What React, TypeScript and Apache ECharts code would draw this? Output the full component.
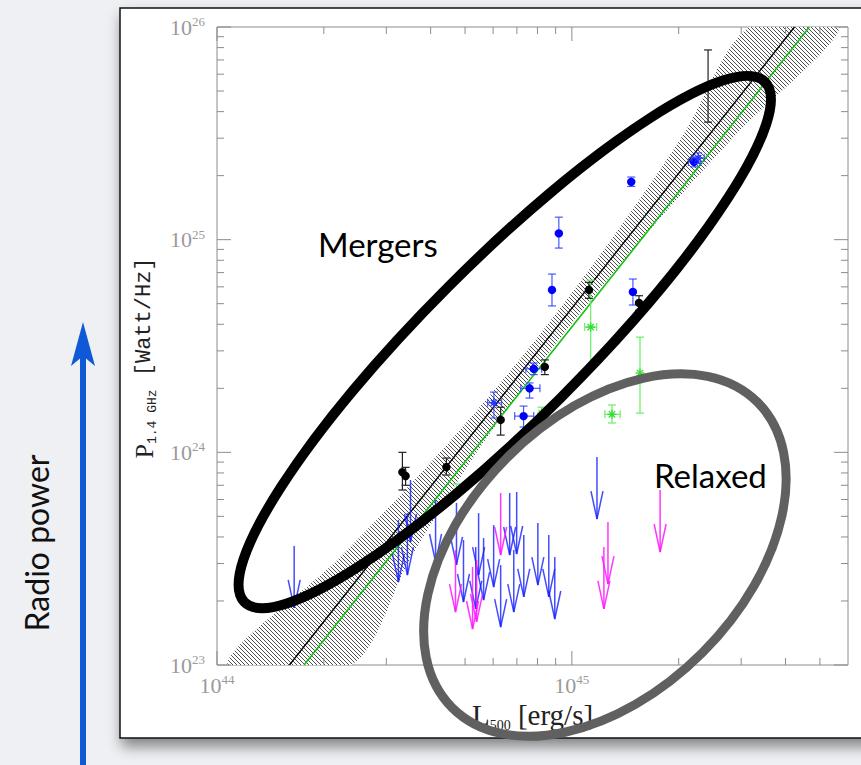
import React, { useEffect, useRef } from 'react';
import * as echarts from 'echarts';

const X_MIN = 1e44;
const X_MAX = 6e45;
const Y_MIN = 1e23;
const Y_MAX = 1e26;

const xMajorTicks = [1e44, 1e45];
const xMinorTicks = [2e44, 3e44, 4e44, 5e44, 6e44, 7e44, 8e44, 9e44, 2e45, 3e45, 4e45, 5e45];
const yMajorTicks = [1e23, 1e24, 1e25, 1e26];
const yMinorTicks = [
  2e23, 3e23, 4e23, 5e23, 6e23, 7e23, 8e23, 9e23,
  2e24, 3e24, 4e24, 5e24, 6e24, 7e24, 8e24, 9e24,
  2e25, 3e25, 4e25, 5e25, 6e25, 7e25, 8e25, 9e25,
];

// best-fit relations
const fitBlackX = [1.6e44, 4.24e45];
const fitBlackY = [1e23, 1e26];
const fitGreenX = [1.76e44, 4.67e45];
const fitGreenY = [1e23, 1e26];

// confidence band of the fit
const bandY = [1e23, 3.16e23, 1e24, 3.16e24, 1e25, 3.16e25, 1e26];
const bandXLow = [1.07e44, 2.2e44, 4.25e44, 7.65e44, 1.29e45, 2.07e45, 3.16e45];
const bandXHigh = [2.39e44, 3.5e44, 5.4e44, 8.9e44, 1.57e45, 2.92e45, 5.68e45];

// black detections
const blackX = [2.42e45, 1.117e45, 1.546e45, 8.39e44, 6.3e44, 3.33e44, 3.4e44, 4.43e44];
const blackY = [5.27e25, 5.8e24, 5.04e24, 2.52e24, 1.42e24, 8.07e23, 7.74e23, 8.53e23];
const blackYLo = [3.57e25, 5.3e24, 4.65e24, 2.32e24, 1.205e24, 6.65e23, 7.0e23, 7.82e23];
const blackYHi = [7.8e25, 6.3e24, 5.45e24, 2.72e24, 1.63e24, 1.0e24, 8.5e23, 9.4e23];

// blue detections
const blueX = [9.19e44, 8.79e44, 1.486e45, 1.47e45, 2.21e45, 7.81e44, 7.6e44, 7.31e44];
const blueY = [1.07e25, 5.8e24, 5.68e24, 1.87e25, 2.32e25, 2.47e24, 2.0e24, 1.48e24];
const blueYLo = [9.13e24, 4.88e24, 4.93e24, 1.78e25, 2.2e25, 2.32e24, 1.8e24, 1.315e24];
const blueYHi = [1.276e25, 6.89e24, 6.53e24, 1.97e25, 2.45e25, 2.63e24, 2.12e24, 1.65e24];
const blueXLo = [9.19e44, 8.79e44, 1.486e45, 1.47e45, 2.13e45, 7.42e44, 7.18e44, 6.9e44];
const blueXHi = [9.19e44, 8.79e44, 1.486e45, 1.47e45, 2.3e45, 8.22e44, 8.13e44, 7.81e44];

// blue open stars
const blueStarX = [6.03e44, 2.27e45];
const blueStarY = [1.71e24, 2.42e25];
const blueStarYLo = [1.45e24, 2.28e25];
const blueStarYHi = [1.92e24, 2.56e25];
const blueStarXLo = [5.79e44, 2.18e45];
const blueStarXHi = [6.34e44, 2.36e45];

// green detections
const greenX = [1.13e45, 1.556e45, 1.297e45, 8.22e44, 4.73e44];
const greenY = [3.88e24, 2.36e24, 1.51e24, 1.53e24, 6.5e23];
const greenYLo = [2.57e24, 1.53e24, 1.374e24, 1.44e24, 6.3e23];
const greenYHi = [6.45e24, 3.48e24, 1.67e24, 1.63e24, 7.1e23];
const greenXLo = [1.087e45, 1.556e45, 1.239e45, 8.22e44, 4.73e44];
const greenXHi = [1.175e45, 1.556e45, 1.368e45, 8.22e44, 4.73e44];

// upper limits (arrows)
const blueLimX = [1.65e44, 3.245e44, 3.44e44, 3.51e44, 4.13e44, 4.73e44, 4.95e44, 5.36e44, 5.46e44, 5.64e44,
  6.02e44, 6.3e44, 6.68e44, 6.99e44, 6.86e44, 7.32e44, 8.02e44, 8.61e44, 8.95e44, 1.177e45];
const blueLimY = [3.63e23, 4.81e23, 5.18e23, 7.41e23, 5.97e23, 5.78e23, 3.87e23, 3.59e23, 5.18e23, 3.95e23,
  4.55e23, 2.95e23, 6.44e23, 6.51e23, 3.47e23, 4.09e23, 4.65e23, 4.09e23, 3.22e23, 9.5e23];
const pinkLimX = [6.3e44, 4.7e44, 5.25e44, 5.39e44, 1.231e45, 1.264e45, 1.773e45];
const pinkLimY = [6.44e23, 3.47e23, 2.89e23, 3.12e23, 3.59e23, 4.7e23, 6.65e23];

// annotation ellipse centres
const mergersCenter = [6.47e44, 3.3e24];
const relaxedCenter = [1.239e45, 3.29e23];

const powLabel = (v: number) => {
  const e = Math.log10(v);
  const r = Math.round(e);
  if (Math.abs(e - r) > 1e-6) return '';
  return `{b|10}{s|${r}}`;
};

const labelRich = {
  b: { fontFamily: 'Liberation Serif', fontSize: 22, color: '#9a9a9a', lineHeight: 24 },
  s: { fontFamily: 'Liberation Serif', fontSize: 13, color: '#9a9a9a', lineHeight: 13, verticalAlign: 'top' },
};

const tickSeries = (vals: number[], dir: 'x' | 'y', len: number) => ({
  type: 'custom',
  coordinateSystem: 'cartesian2d',
  silent: true,
  z: 6,
  clip: false,
  data: vals.map((v) => (dir === 'x' ? [v, Y_MIN] : [X_MIN, v])),
  renderItem: (params: any, api: any) => {
    const cs = params.coordSys;
    const p = api.coord([api.value(0), api.value(1)]);
    const st = () => ({ stroke: '#8c8c8c', lineWidth: 1 });
    if (dir === 'x') {
      return {
        type: 'group',
        children: [
          { type: 'line', shape: { x1: p[0], y1: cs.y + cs.height, x2: p[0], y2: cs.y + cs.height - len }, style: st() },
          { type: 'line', shape: { x1: p[0], y1: cs.y, x2: p[0], y2: cs.y + len }, style: st() },
        ],
      };
    }
    return {
      type: 'group',
      children: [
        { type: 'line', shape: { x1: cs.x, y1: p[1], x2: cs.x + len, y2: p[1] }, style: st() },
        { type: 'line', shape: { x1: cs.x + cs.width, y1: p[1], x2: cs.x + cs.width - len, y2: p[1] }, style: st() },
      ],
    };
  },
});

const errSeries = (
  xs: number[], ys: number[], ylo: number[], yhi: number[], xlo: number[], xhi: number[],
  color: string, barColor: string, marker: 'circle' | 'star' | 'none', z: number,
) => ({
  type: 'custom',
  coordinateSystem: 'cartesian2d',
  silent: true,
  z,
  clip: true,
  data: xs.map((x, i) => [x, ys[i], ylo[i], yhi[i], xlo[i], xhi[i]]),
  encode: { x: 0, y: 1 },
  renderItem: (params: any, api: any) => {
    const x = api.value(0);
    const y = api.value(1);
    const c = api.coord([x, y]);
    const b = api.coord([x, api.value(2)]);
    const t = api.coord([x, api.value(3)]);
    const l = api.coord([api.value(4), y]);
    const r = api.coord([api.value(5), y]);
    const cap = 4;
    const st = () => ({ stroke: barColor, lineWidth: 1.2 });
    const ch: any[] = [
      { type: 'line', shape: { x1: c[0], y1: t[1], x2: c[0], y2: b[1] }, style: st() },
      { type: 'line', shape: { x1: c[0] - cap, y1: t[1], x2: c[0] + cap, y2: t[1] }, style: st() },
      { type: 'line', shape: { x1: c[0] - cap, y1: b[1], x2: c[0] + cap, y2: b[1] }, style: st() },
    ];
    if (r[0] - l[0] > 1) {
      ch.push({ type: 'line', shape: { x1: l[0], y1: c[1], x2: r[0], y2: c[1] }, style: st() });
      ch.push({ type: 'line', shape: { x1: l[0], y1: c[1] - cap, x2: l[0], y2: c[1] + cap }, style: st() });
      ch.push({ type: 'line', shape: { x1: r[0], y1: c[1] - cap, x2: r[0], y2: c[1] + cap }, style: st() });
    }
    if (marker === 'circle') {
      ch.push({ type: 'circle', shape: { cx: c[0], cy: c[1], r: 4.2 }, style: { fill: color } });
    } else if (marker === 'star') {
      const rr = 4.5;
      const d = rr * 0.7;
      const ss = () => ({ stroke: color, lineWidth: 1.3 });
      ch.push({ type: 'line', shape: { x1: c[0] - rr, y1: c[1], x2: c[0] + rr, y2: c[1] }, style: ss() });
      ch.push({ type: 'line', shape: { x1: c[0], y1: c[1] - rr, x2: c[0], y2: c[1] + rr }, style: ss() });
      ch.push({ type: 'line', shape: { x1: c[0] - d, y1: c[1] - d, x2: c[0] + d, y2: c[1] + d }, style: ss() });
      ch.push({ type: 'line', shape: { x1: c[0] - d, y1: c[1] + d, x2: c[0] + d, y2: c[1] - d }, style: ss() });
    }
    return { type: 'group', children: ch };
  },
});

const arrowSeries = (xs: number[], ys: number[], color: string, z: number) => ({
  type: 'custom',
  coordinateSystem: 'cartesian2d',
  silent: true,
  z,
  clip: false,
  data: xs.map((x, i) => [x, ys[i]]),
  renderItem: (params: any, api: any) => {
    const p = api.coord([api.value(0), api.value(1)]);
    const len = 62;
    const tip = p[1] + len;
    return {
      type: 'group',
      children: [
        { type: 'line', shape: { x1: p[0], y1: p[1], x2: p[0], y2: tip }, style: { stroke: color, lineWidth: 1.5 } },
        {
          type: 'polyline',
          shape: { points: [[p[0] - 6, tip - 28], [p[0], tip], [p[0] + 6, tip - 28]] },
          style: { stroke: color, fill: 'none', lineWidth: 1.5 },
        },
      ],
    };
  },
});

const ellipseSeries = (center: number[], rx: number, ry: number, color: string, width: number) => ({
  type: 'custom',
  coordinateSystem: 'cartesian2d',
  silent: true,
  z: 20,
  clip: false,
  data: [center],
  renderItem: (params: any, api: any) => {
    const p = api.coord([api.value(0), api.value(1)]);
    return {
      type: 'ellipse',
      x: p[0],
      y: p[1],
      rotation: Math.PI / 4,
      shape: { cx: 0, cy: 0, rx, ry },
      style: { fill: 'none', stroke: color, lineWidth: width },
    };
  },
});

export default function App() {
  const ref = useRef<HTMLDivElement>(null);

  useEffect(() => {
    if (!ref.current) return;
    const chart = echarts.init(ref.current, null, { renderer: 'svg' });

    const cv = document.createElement('canvas');
    cv.width = 4;
    cv.height = 4;
    const ctx = cv.getContext('2d');
    if (ctx) {
      ctx.fillStyle = '#ffffff';
      ctx.fillRect(0, 0, 4, 4);
      ctx.strokeStyle = '#3a3a3a';
      ctx.lineWidth = 0.9;
      ctx.beginPath();
      ctx.moveTo(-1, -1); ctx.lineTo(5, 5);
      ctx.moveTo(-1, 3); ctx.lineTo(1, 5);
      ctx.moveTo(3, -1); ctx.lineTo(5, 1);
      ctx.stroke();
    }
    const hatch: any = { image: cv, repeat: 'repeat', imageWidth: 4, imageHeight: 4 };

    const option: any = {
      animation: false,
      backgroundColor: '#eef0f3',
      grid: {
        left: 217, right: 13, top: 27, bottom: 100,
        show: true, borderColor: '#8c8c8c', borderWidth: 1, backgroundColor: 'transparent',
      },
      xAxis: {
        type: 'log', logBase: 10, min: X_MIN, max: X_MAX,
        axisLine: { show: false }, axisTick: { show: false }, splitLine: { show: false }, minorTick: { show: false },
        axisLabel: { formatter: powLabel, margin: 8, rich: labelRich },
        name: '{t|L}{sub|500}{t| [erg/s]}',
        nameLocation: 'middle',
        nameGap: 33,
        nameTextStyle: {
          rich: {
            t: { fontFamily: 'Liberation Serif', fontSize: 29, color: '#222', lineHeight: 34 },
            sub: { fontFamily: 'Liberation Serif', fontSize: 14, color: '#222', lineHeight: 16, verticalAlign: 'bottom' },
          },
        },
      },
      yAxis: {
        type: 'log', logBase: 10, min: Y_MIN, max: Y_MAX,
        axisLine: { show: false }, axisTick: { show: false }, splitLine: { show: false }, minorTick: { show: false },
        axisLabel: { formatter: powLabel, margin: 12, rich: labelRich },
        name: '{p|P}{sub|1.4 GHz}{u| [Watt/Hz]}',
        nameLocation: 'middle',
        nameGap: 54,
        nameRotate: 90,
        nameTextStyle: {
          padding: [0, 24, 0, 0],
          rich: {
            p: { fontFamily: 'Liberation Serif', fontSize: 26, color: '#222', lineHeight: 30 },
            sub: { fontFamily: 'Liberation Mono', fontSize: 13, color: '#222', lineHeight: 15, verticalAlign: 'bottom' },
            u: { fontFamily: 'Liberation Mono', fontSize: 22, color: '#222', lineHeight: 30 },
          },
        },
      },
      graphic: {
        elements: [
          {
            type: 'rect', z: -10, silent: true,
            shape: { x: 120, y: 8, width: 800, height: 730 },
            style: { fill: '#ffffff', stroke: '#111111', lineWidth: 1.5, shadowBlur: 14, shadowOffsetX: 2, shadowOffsetY: 8, shadowColor: 'rgba(0,0,0,0.45)' },
          },
          { type: 'rect', silent: true, shape: { x: 80, y: 352, width: 6, height: 420 }, style: { fill: '#1059d6' } },
          { type: 'polygon', silent: true, shape: { points: [[83, 322], [95, 366], [83, 356], [71, 366]] }, style: { fill: '#1059d6' } },
          {
            type: 'text', silent: true, x: 36, y: 543, rotation: Math.PI / 2,
            style: { text: 'Radio power', font: '32px Lato', fill: '#111', textAlign: 'center', align: 'center', textVerticalAlign: 'middle', verticalAlign: 'middle' },
          },
          {
            type: 'text', silent: true, x: 318, y: 244, z: 30,
            style: { text: 'Mergers', font: '33px Lato', fill: '#000', textAlign: 'left', align: 'left', textVerticalAlign: 'middle', verticalAlign: 'middle' },
          },
          {
            type: 'text', silent: true, x: 654, y: 475, z: 30,
            style: { text: 'Relaxed', font: '33px Lato', fill: '#000', textAlign: 'left', align: 'left', textVerticalAlign: 'middle', verticalAlign: 'middle' },
          },
        ],
      },
      series: [
        {
          type: 'custom',
          coordinateSystem: 'cartesian2d',
          silent: true,
          z: 2,
          clip: true,
          data: bandY.map((y, i) => [bandXLow[i], y, bandXHigh[i]]),
          encode: { x: 0, y: 1 },
          renderItem: (params: any, api: any) => {
            if (params.dataIndex !== 0) return null;
            const pts: number[][] = [];
            for (let i = 0; i < bandY.length; i++) pts.push(api.coord([bandXLow[i], bandY[i]]));
            for (let i = bandY.length - 1; i >= 0; i--) pts.push(api.coord([bandXHigh[i], bandY[i]]));
            return { type: 'polygon', shape: { points: pts, smooth: 0.3 }, style: { fill: hatch, stroke: 'none' } };
          },
        },
        {
          type: 'line', silent: true, z: 3, showSymbol: false, symbol: 'none',
          data: fitBlackX.map((x, i) => [x, fitBlackY[i]]),
          lineStyle: { color: '#000', width: 1.4 },
        },
        {
          type: 'line', silent: true, z: 3, showSymbol: false, symbol: 'none',
          data: fitGreenX.map((x, i) => [x, fitGreenY[i]]),
          lineStyle: { color: '#0fc00f', width: 1.6 },
        },
        arrowSeries(blueLimX, blueLimY, 'rgba(20,30,255,0.8)', 4),
        arrowSeries(pinkLimX, pinkLimY, 'rgba(255,20,255,0.85)', 4),
        errSeries(greenX, greenY, greenYLo, greenYHi, greenXLo, greenXHi, '#33dd33', '#66ee66', 'star', 5),
        errSeries(blueX, blueY, blueYLo, blueYHi, blueXLo, blueXHi, '#0000ff', 'rgba(40,60,255,0.85)', 'circle', 5),
        errSeries(blueStarX, blueStarY, blueStarYLo, blueStarYHi, blueStarXLo, blueStarXHi, '#2233ff', 'rgba(40,60,255,0.8)', 'star', 5),
        errSeries(blackX, blackY, blackYLo, blackYHi, blackX, blackX, '#000', '#222', 'circle', 5),
        tickSeries(xMajorTicks, 'x', 14),
        tickSeries(xMinorTicks, 'x', 7),
        tickSeries(yMajorTicks, 'y', 14),
        tickSeries(yMinorTicks, 'y', 7),
        ellipseSeries(mergersCenter, 368, 79, '#000', 10),
        ellipseSeries(relaxedCenter, 216, 138, '#606060', 9),
      ],
    };

    chart.setOption(option);
    return () => {
      chart.dispose();
    };
  }, []);

  return <div ref={ref} style={{ position: 'absolute', left: 0, top: 0, width: 861, height: 765 }} />;
}
